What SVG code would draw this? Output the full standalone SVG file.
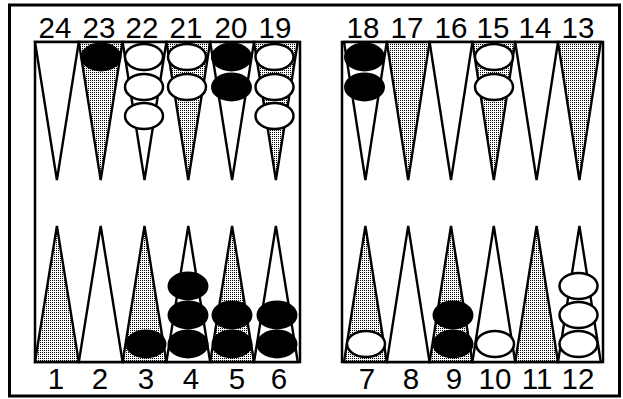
<svg xmlns="http://www.w3.org/2000/svg" width="623" height="399" viewBox="0 0 623 399">
<defs>
<pattern id="dots" width="2" height="2" patternUnits="userSpaceOnUse">
<rect width="2" height="2" fill="#fff"/>
<rect width="1" height="1" fill="#000"/>
</pattern>
</defs>
<style>
.frame{fill:#fff;stroke:#000;stroke-width:3}
.board{fill:#fff;stroke:#000;stroke-width:2.5}
.pt{stroke:#000;stroke-width:2.4;stroke-linejoin:miter}
.w{fill:#fff}
.s{fill:url(#dots)}
.cw{fill:#fff;stroke:#000;stroke-width:2.5}
.cb{fill:#000;stroke:#000;stroke-width:2}
.lbl{font-family:"Liberation Sans",Arial,sans-serif;font-size:29.5px;text-anchor:middle;fill:#000}
</style>
<rect class="frame" x="9.5" y="5" width="610" height="391"/>
<g id="board-left"><rect class="board" x="35" y="42" width="265" height="320"/></g>
<g id="board-right"><rect class="board" x="342" y="42" width="261" height="320"/></g>

<!-- top left: 24..19 -->
<g id="p24"><polygon class="pt w" points="35,42 78.8,42 56.9,180"/><text class="lbl" x="55" y="38">24</text></g>
<g id="p23"><polygon class="pt s" points="78.8,42 122.6,42 100.7,180"/><ellipse class="cb" cx="101" cy="57" rx="19.5" ry="13.5"/><text class="lbl" x="99" y="38">23</text></g>
<g id="p22"><polygon class="pt w" points="122.6,42 166.4,42 144.5,180"/><ellipse class="cw" cx="144" cy="57" rx="19" ry="13"/><ellipse class="cw" cx="144" cy="87" rx="19" ry="13"/><ellipse class="cw" cx="144" cy="116" rx="19" ry="13"/><text class="lbl" x="142" y="38">22</text></g>
<g id="p21"><polygon class="pt s" points="166.4,42 210.2,42 188.3,180"/><ellipse class="cw" cx="187" cy="57" rx="19" ry="13"/><ellipse class="cw" cx="187" cy="87" rx="19" ry="13"/><text class="lbl" x="186" y="38">21</text></g>
<g id="p20"><polygon class="pt w" points="210.2,42 254,42 232.1,180"/><ellipse class="cb" cx="231.5" cy="57" rx="19.5" ry="13.5"/><ellipse class="cb" cx="231.5" cy="87" rx="19.5" ry="13.5"/><text class="lbl" x="231" y="38">20</text></g>
<g id="p19"><polygon class="pt s" points="254,42 297.8,42 275.9,180"/><ellipse class="cw" cx="274.5" cy="57" rx="19" ry="13"/><ellipse class="cw" cx="274.5" cy="87" rx="19" ry="13"/><ellipse class="cw" cx="274.5" cy="116" rx="19" ry="13"/><text class="lbl" x="275" y="38">19</text></g>

<!-- top right: 18..13 -->
<g id="p18"><polygon class="pt w" points="344,42 386.8,42 365.4,180"/><ellipse class="cb" cx="364.5" cy="57" rx="19.5" ry="13.5"/><ellipse class="cb" cx="364.5" cy="87" rx="19.5" ry="13.5"/><text class="lbl" x="363" y="38">18</text></g>
<g id="p17"><polygon class="pt s" points="386.8,42 429.6,42 408.2,180"/><text class="lbl" x="407" y="38">17</text></g>
<g id="p16"><polygon class="pt w" points="429.6,42 472.4,42 451,180"/><text class="lbl" x="451" y="38">16</text></g>
<g id="p15"><polygon class="pt s" points="472.4,42 515.2,42 493.8,180"/><ellipse class="cw" cx="494" cy="57" rx="19" ry="13"/><ellipse class="cw" cx="494" cy="87" rx="19" ry="13"/><text class="lbl" x="493" y="38">15</text></g>
<g id="p14"><polygon class="pt w" points="515.2,42 558,42 536.6,180"/><text class="lbl" x="535" y="38">14</text></g>
<g id="p13"><polygon class="pt s" points="558,42 600.8,42 579.4,180"/><text class="lbl" x="578" y="38">13</text></g>

<!-- bottom left: 1..6 -->
<g id="p1"><polygon class="pt s" points="35,362 78.8,362 56.9,226"/><text class="lbl" x="56" y="389">1</text></g>
<g id="p2"><polygon class="pt w" points="78.8,362 122.6,362 100.7,226"/><text class="lbl" x="100" y="389">2</text></g>
<g id="p3"><polygon class="pt s" points="122.6,362 166.4,362 144.5,226"/><ellipse class="cb" cx="146" cy="344" rx="19.5" ry="13.5"/><text class="lbl" x="146" y="389">3</text></g>
<g id="p4"><polygon class="pt w" points="166.4,362 210.2,362 188.3,226"/><ellipse class="cb" cx="188" cy="344" rx="19.5" ry="13.5"/><ellipse class="cb" cx="188" cy="315" rx="19.5" ry="13.5"/><ellipse class="cb" cx="188" cy="286" rx="19.5" ry="13.5"/><text class="lbl" x="191" y="389">4</text></g>
<g id="p5"><polygon class="pt s" points="210.2,362 254,362 232.1,226"/><ellipse class="cb" cx="232" cy="344" rx="19.5" ry="13.5"/><ellipse class="cb" cx="232" cy="315" rx="19.5" ry="13.5"/><text class="lbl" x="237" y="389">5</text></g>
<g id="p6"><polygon class="pt w" points="254,362 297.8,362 275.9,226"/><ellipse class="cb" cx="277" cy="344" rx="19.5" ry="13.5"/><ellipse class="cb" cx="277" cy="315" rx="19.5" ry="13.5"/><text class="lbl" x="279" y="389">6</text></g>

<!-- bottom right: 7..12 -->
<g id="p7"><polygon class="pt s" points="344,362 386.8,362 365.4,226"/><ellipse class="cw" cx="366" cy="344" rx="19" ry="13"/><text class="lbl" x="367" y="389">7</text></g>
<g id="p8"><polygon class="pt w" points="386.8,362 429.6,362 408.2,226"/><text class="lbl" x="411" y="389">8</text></g>
<g id="p9"><polygon class="pt s" points="429.6,362 472.4,362 451,226"/><ellipse class="cb" cx="453" cy="344" rx="19.5" ry="13.5"/><ellipse class="cb" cx="453" cy="315" rx="19.5" ry="13.5"/><text class="lbl" x="454" y="389">9</text></g>
<g id="p10"><polygon class="pt w" points="472.4,362 515.2,362 493.8,226"/><ellipse class="cw" cx="495" cy="344" rx="19" ry="13"/><text class="lbl" x="495" y="389">10</text></g>
<g id="p11"><polygon class="pt s" points="515.2,362 558,362 536.6,226"/><text class="lbl" x="537" y="389">11</text></g>
<g id="p12"><polygon class="pt w" points="558,362 600.8,362 579.4,226"/><ellipse class="cw" cx="578.5" cy="344" rx="19" ry="13"/><ellipse class="cw" cx="578.5" cy="315" rx="19" ry="13"/><ellipse class="cw" cx="578.5" cy="286" rx="19" ry="13"/><text class="lbl" x="578" y="389">12</text></g>
</svg>
